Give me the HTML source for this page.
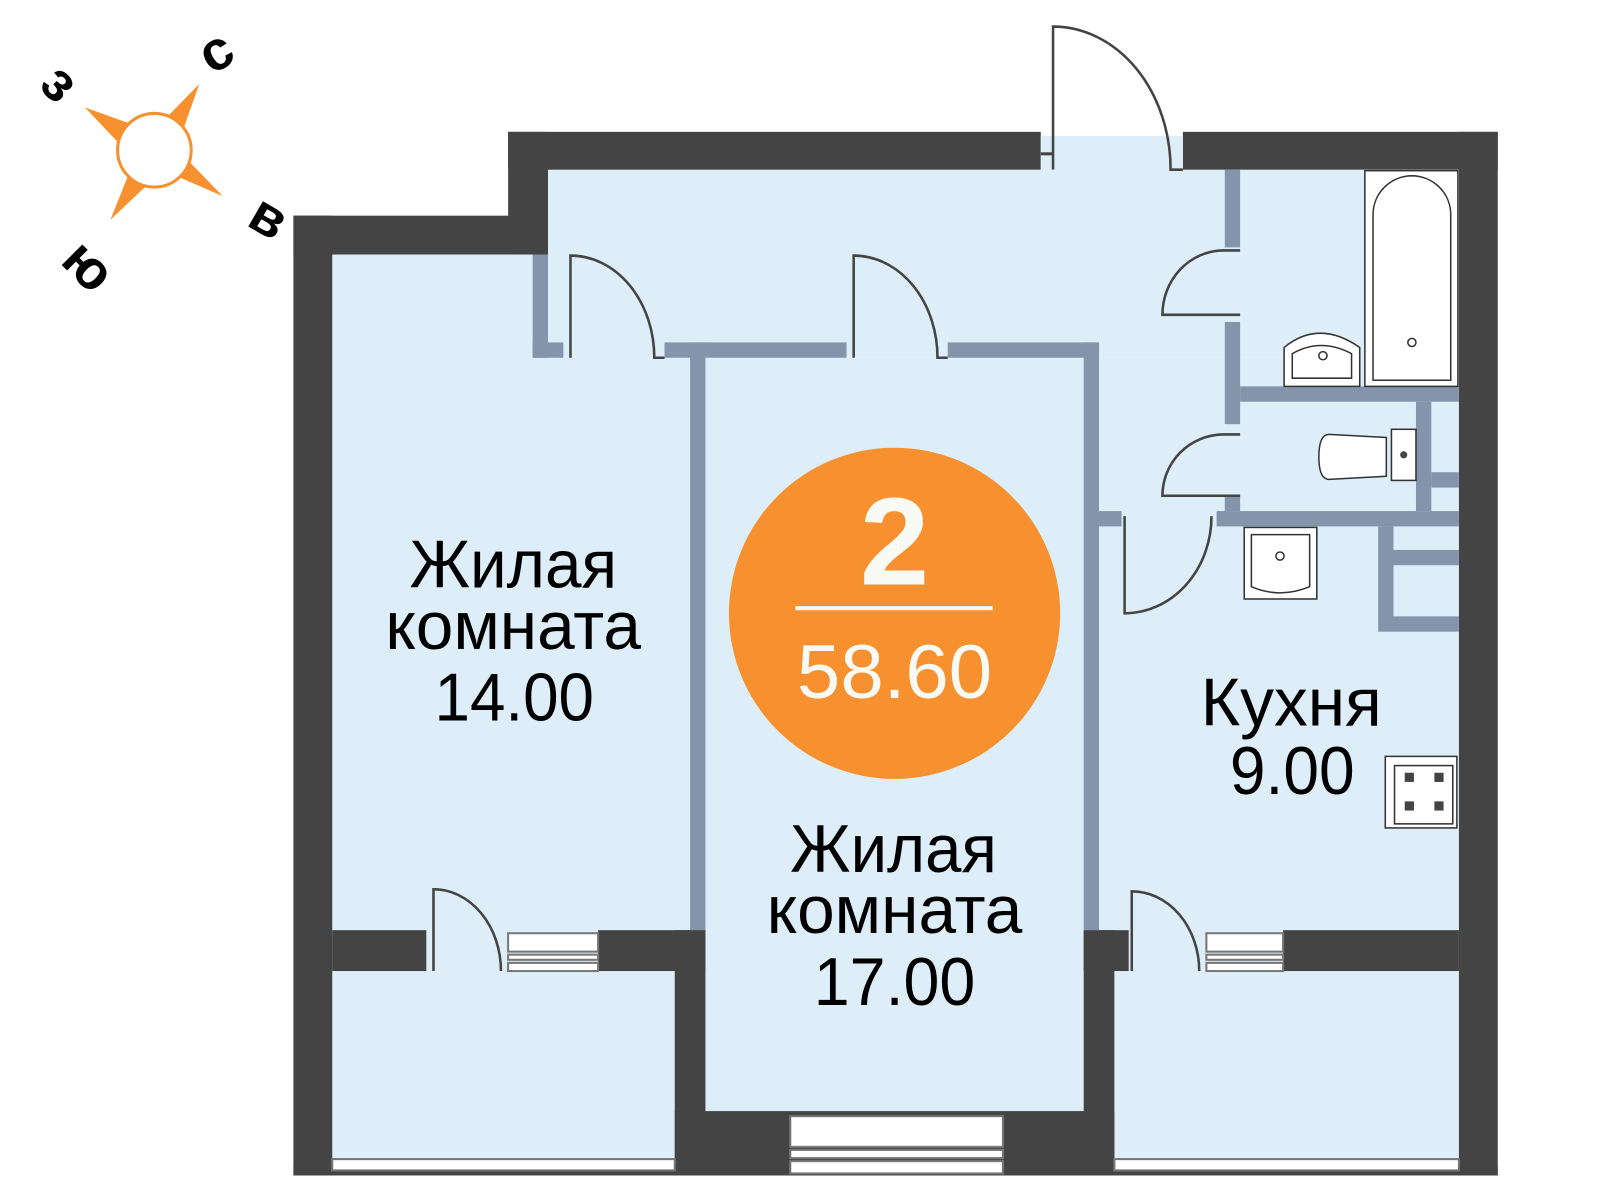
<!DOCTYPE html>
<html><head><meta charset="utf-8"><style>html,body{margin:0;padding:0;background:#fff;}svg{display:block}</style></head>
<body>
<svg width="1600" height="1200" viewBox="0 0 1565 1174" preserveAspectRatio="none" xmlns="http://www.w3.org/2000/svg">
<rect width="1565" height="1174" fill="#fff"/>
<!-- floor -->
<g fill="#deeef9">
<rect x="325" y="249" width="365" height="661"/>
<rect x="536" y="166" width="891" height="184"/>
<rect x="1030" y="133" width="115" height="40"/>
<rect x="690" y="350" width="370" height="737"/>
<rect x="1060" y="350" width="367" height="560"/>
<rect x="325" y="905" width="335" height="235"/>
<rect x="1090" y="905" width="337" height="235"/>
</g>
<!-- dark walls -->
<g fill="#444">
<rect x="287" y="211" width="38" height="939"/>
<rect x="287" y="211" width="249" height="38"/>
<rect x="497" y="129" width="39" height="120"/>
<rect x="497" y="129" width="521" height="37"/>
<rect x="1157" y="129" width="308" height="37"/>
<rect x="1427" y="129" width="38" height="1021"/>
<rect x="325" y="910" width="92" height="40"/>
<rect x="585" y="910" width="105" height="40"/>
<rect x="660" y="910" width="30" height="240"/>
<rect x="660" y="1087" width="430" height="63"/>
<rect x="1060" y="910" width="30" height="240"/>
<rect x="1060" y="910" width="44" height="40"/>
<rect x="1255" y="910" width="172" height="40"/>
<rect x="287" y="1140" width="1178" height="10"/>
</g>
<!-- door frames in top wall -->
<rect x="1018" y="133" width="12" height="33" fill="#deeef9"/>
<rect x="1018" y="149" width="12" height="3" fill="#444"/>
<rect x="1145" y="133" width="12" height="33" fill="#deeef9"/>
<!-- windows -->
<g fill="#fff" stroke="#777" stroke-width="2">
<rect x="325" y="1134" width="335" height="11"/>
<rect x="1090" y="1134" width="337" height="11"/>
<rect x="773" y="1092" width="208" height="30"/>
<rect x="773" y="1125" width="208" height="8"/>
<rect x="773" y="1136" width="208" height="12"/>
<rect x="497" y="913" width="88" height="18"/>
<rect x="497" y="934" width="88" height="5"/>
<rect x="497" y="942" width="88" height="8"/>
<rect x="1180" y="913" width="75" height="18"/>
<rect x="1180" y="934" width="75" height="5"/>
<rect x="1180" y="942" width="75" height="8"/>
</g>
<!-- partitions -->
<g fill="#8494ab">
<rect x="521" y="249" width="15" height="101"/>
<rect x="521" y="335" width="30" height="15"/>
<rect x="650" y="335" width="178" height="15"/>
<rect x="927" y="335" width="148" height="15"/>
<rect x="675" y="335" width="15" height="575"/>
<rect x="1060" y="335" width="15" height="575"/>
<rect x="1075" y="500" width="22" height="15"/>
<rect x="1198" y="166" width="15" height="76"/>
<rect x="1198" y="315" width="15" height="100"/>
<rect x="1198" y="485" width="15" height="15"/>
<rect x="1213" y="378" width="214" height="15"/>
<rect x="1385" y="393" width="15" height="107"/>
<rect x="1400" y="462" width="27" height="15"/>
<rect x="1190" y="500" width="237" height="15"/>
<rect x="1348" y="515" width="15" height="103"/>
<rect x="1363" y="538" width="64" height="15"/>
<rect x="1363" y="603" width="64" height="15"/>
</g>
<!-- doors -->
<g fill="none" stroke="#444" stroke-width="2.5">
<path d="M558 350 V250 A82 100 0 0 1 640 350 H650"/>
<path d="M835 350 V250 A82 100 0 0 1 917 350 H927"/>
<path d="M1030 166 V26 A115 140 0 0 1 1145 166 H1157"/>
<path d="M1213 245 H1196 A60 63 0 0 0 1137 308 H1213"/>
<path d="M1213 425 H1196 A60 60 0 0 0 1137 485 H1213"/>
<path d="M1100 505 V600 A85 95 0 0 0 1185 505"/>
<path d="M424 950 V870 A66 80 0 0 1 490 950"/>
<path d="M1107 950 V872 A66 78 0 0 1 1173 950"/>
</g>
<!-- fixtures -->
<g stroke="#333" stroke-width="1.5" fill="#fff">
<rect x="1335" y="167" width="91" height="211"/>
<path d="M1343 372 V210 A38 38 0 0 1 1419 210 V372 Z"/>
<circle cx="1381" cy="335" r="4"/>
<path d="M1256 378 V340 Q1290 312 1330 340 V378 Z"/>
<path d="M1264 370 V346 Q1292 330 1322 346 V370 Z"/>
<circle cx="1294" cy="348" r="4"/>
<path d="M1300 425 L1356 428 V466 L1300 469 Q1290 469 1290 447 Q1290 425 1300 425 Z"/>
<rect x="1361" y="420" width="24" height="50"/>
<rect x="1217" y="516" width="71" height="70"/>
<path d="M1224 523 H1281 V574 Q1252 586 1224 574 Z"/>
<circle cx="1252" cy="544" r="4"/>
<rect x="1355" y="740" width="70" height="70"/>
<rect x="1364" y="749" width="57" height="57"/>
</g>
<g fill="#444"><rect x="1374" y="756" width="9" height="9"/><rect x="1403" y="756" width="9" height="9"/><rect x="1374" y="784" width="9" height="9"/><rect x="1403" y="784" width="9" height="9"/><circle cx="1373" cy="445" r="3.5"/></g>
<!-- orange circle -->
<circle cx="875" cy="600" r="162" fill="#f7912f"/>
<text x="875" y="572" text-anchor="middle" font-family="Liberation Sans, sans-serif" font-weight="bold" font-size="122" fill="#fafaf5">2</text>
<rect x="778" y="593" width="193" height="4" fill="#fafaf5"/>
<text x="875" y="683" text-anchor="middle" font-family="Liberation Sans, sans-serif" font-size="74" fill="#fafaf5" textLength="191" lengthAdjust="spacingAndGlyphs">58.60</text>
<!-- labels -->
<g font-family="Liberation Sans, sans-serif" font-size="66" fill="#000" text-anchor="middle">
<text x="502" y="575" textLength="203" lengthAdjust="spacingAndGlyphs">Жилая</text>
<text x="502" y="635" textLength="250" lengthAdjust="spacingAndGlyphs">комната</text>
<text x="503" y="705" textLength="156" lengthAdjust="spacingAndGlyphs">14.00</text>
<text x="874" y="853" textLength="202" lengthAdjust="spacingAndGlyphs">Жилая</text>
<text x="875" y="913" textLength="250" lengthAdjust="spacingAndGlyphs">комната</text>
<text x="875" y="983" textLength="158" lengthAdjust="spacingAndGlyphs">17.00</text>
<text x="1263" y="710" textLength="177" lengthAdjust="spacingAndGlyphs">Кухня</text>
<text x="1264" y="777" textLength="122" lengthAdjust="spacingAndGlyphs">9.00</text>
</g>
<!-- compass -->
<g fill="#f7912f">
<polygon points="195,82 158,120 178,130"/>
<polygon points="83,105 130,122 118,142"/>
<polygon points="218,192 172,172 182,155"/>
<polygon points="108,215 126,170 143,182"/>
</g>
<circle cx="151" cy="147" r="36" fill="#fff" stroke="#f7912f" stroke-width="3"/>
<g font-family="Liberation Sans, sans-serif" font-weight="bold" font-size="54" fill="#000" text-anchor="middle">
<text transform="translate(46,94) rotate(45)">з</text>
<text transform="translate(220,66) rotate(-30)">с</text>
<text transform="translate(254,228) rotate(30)">в</text>
<text transform="translate(74,273) rotate(45)">ю</text>
</g>
</svg>
</body></html>
